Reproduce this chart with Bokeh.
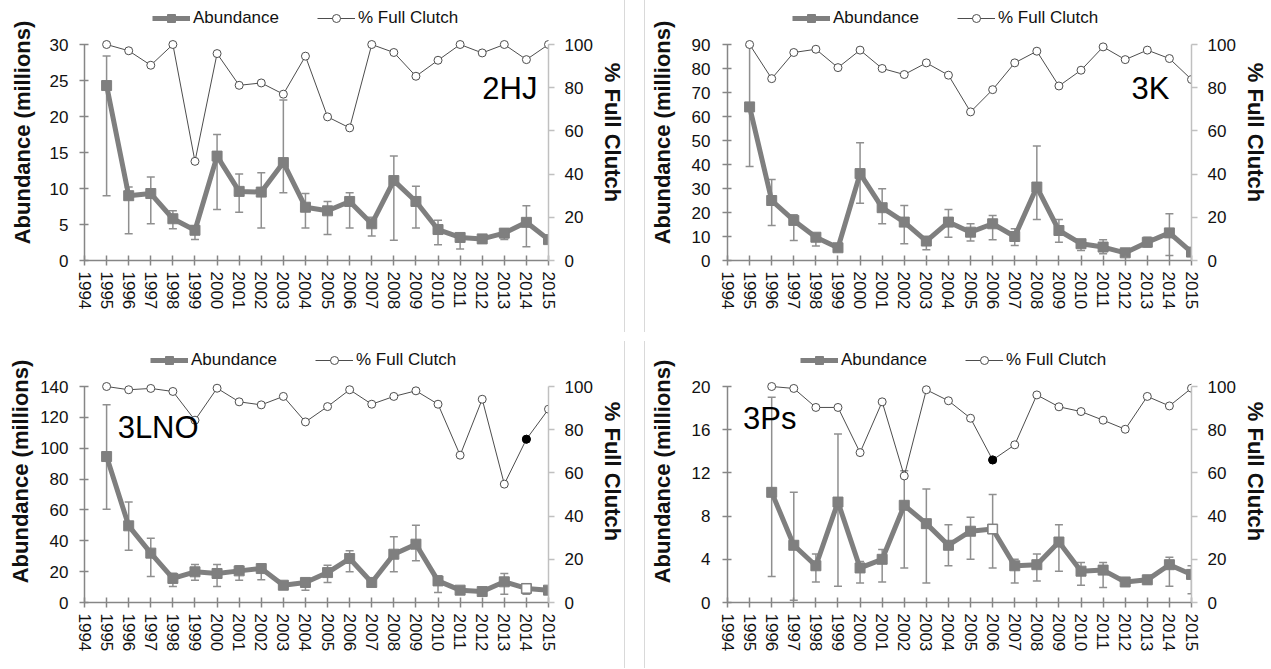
from bokeh.plotting import figure
from bokeh.models import (Range1d, LinearAxis, FixedTicker, Legend, LegendItem,
                          Whisker, TeeHead, ColumnDataSource, Label)
from bokeh.layouts import gridplot
from bokeh.embed import file_html
from bokeh.resources import INLINE

tick_years = list(range(1994, 2016))
years = list(range(1995, 2016))
ps_years = list(range(1996, 2016))

# 2HJ
hj_abund = [24.3, 9.0, 9.3, 5.8, 4.2, 14.5, 9.6, 9.5, 13.6, 7.4, 6.9, 8.2, 5.1, 11.1, 8.2, 4.3, 3.2, 3.0, 3.8, 5.3, 2.9]
hj_lo = [9.0, 3.7, 5.1, 4.4, 2.9, 7.1, 6.7, 4.5, 9.4, 4.5, 3.6, 4.5, 3.4, 2.8, 4.5, 2.2, 1.6, 2.7, 2.9, 1.9, 2.6]
hj_hi = [28.4, 10.2, 11.6, 6.9, 4.8, 17.5, 12.0, 12.2, 22.3, 9.3, 8.2, 9.4, 6.0, 14.5, 10.3, 5.6, 3.7, 3.3, 4.4, 7.6, 3.2]
hj_pct = [100, 97.1, 90.4, 100, 45.9, 95.8, 81.1, 82.2, 77.0, 94.6, 66.5, 61.4, 100, 96.3, 85.3, 92.7, 100, 96.1, 100, 93.0, 100]

# 3K
k_abund = [64.0, 25.0, 16.7, 9.7, 5.3, 36.2, 22.0, 16.0, 8.1, 16.0, 11.8, 15.3, 10.0, 30.6, 12.5, 7.0, 5.6, 3.2, 7.6, 11.5, 3.5]
k_lo = [39.2, 14.6, 8.3, 6.0, 4.5, 23.9, 15.3, 7.0, 4.5, 9.7, 8.1, 8.6, 6.3, 17.1, 7.6, 4.2, 2.8, 2.5, 5.6, 2.1, 2.8]
k_hi = [89.5, 33.7, 19.1, 11.1, 6.5, 49.1, 29.9, 22.9, 9.7, 21.3, 15.3, 18.8, 13.2, 47.7, 17.1, 8.1, 8.6, 4.0, 9.7, 19.5, 4.2]
k_pct = [100, 84.2, 96.3, 97.8, 89.3, 97.4, 88.9, 86.1, 91.5, 85.8, 68.8, 79.1, 91.5, 96.9, 80.8, 88.1, 98.9, 93.0, 97.4, 93.5, 83.8]

# 3LNO
lno_abund = [94.6, 49.7, 32.0, 15.6, 19.9, 18.8, 20.5, 22.0, 11.2, 13.0, 19.4, 28.5, 13.0, 31.3, 37.8, 14.0, 8.0, 7.1, 13.4, 9.1, 8.0]
lno_lo = [60.5, 33.9, 16.8, 10.4, 14.5, 10.4, 14.5, 14.7, 9.5, 8.0, 13.0, 19.9, 11.0, 19.9, 27.0, 6.5, 6.5, 6.0, 5.4, 5.4, 7.0]
lno_hi = [128.1, 65.2, 41.7, 19.0, 24.6, 24.6, 23.8, 24.6, 13.0, 15.5, 24.2, 33.5, 15.0, 42.6, 50.1, 17.3, 9.5, 8.5, 18.8, 11.0, 9.0]
lno_pct = [100, 98.5, 99.1, 97.7, 84.4, 99.2, 92.9, 91.5, 95.4, 83.6, 90.7, 98.5, 91.8, 95.4, 98.0, 91.8, 68.2, 94.1, 54.8, 75.6, 89.5]

# 3Ps
ps_abund = [10.2, 5.3, 3.4, 9.3, 3.2, 4.0, 9.0, 7.3, 5.3, 6.6, 6.8, 3.4, 3.5, 5.6, 2.9, 3.0, 1.9, 2.1, 3.5, 2.6]
ps_lo = [2.4, 0.2, 1.9, 1.5, 1.8, 1.9, 3.2, 1.8, 3.4, 4.0, 3.2, 1.8, 2.0, 2.9, 1.6, 1.4, 1.6, 1.7, 1.5, 0.8]
ps_hi = [19.0, 10.2, 4.5, 15.6, 3.8, 4.9, 12.2, 10.5, 7.2, 7.9, 10.0, 4.0, 4.5, 7.2, 3.7, 3.7, 2.2, 2.5, 4.2, 3.4]
ps_pct = [100, 99.1, 90.3, 90.3, 69.4, 92.9, 58.6, 98.5, 93.4, 85.3, 66.0, 73.0, 96.1, 90.6, 88.4, 84.4, 80.2, 95.4, 91.0, 99.2]

pct_ticks = [0, 20, 40, 60, 80, 100]

FONT = "Liberation Sans"
ABC = "#7f7f7f"
ERRC = "#8f8f8f"
PCTC = "#4d4d4d"
AXC = "#868686"
SEPC = "#d9d9d9"
AXIS_PX = 216  # pixel height of the data part of each axis


def make_panel(yrs, abund, lo, hi, pct, ymax, ystep, name, lab_x, lab_y, lab_align,
               special, width, height, bl, br, bt, bb, leg_x, tick_sd, title_sd,
               sep_x, sep_y, sep_h):
    frame_h = height - bt - bb
    ext = frame_h / AXIS_PX
    p = figure(width=width, height=height, output_backend="svg", toolbar_location=None,
               x_range=Range1d(1994, 2015), y_range=Range1d(0, ymax * ext),
               min_border_left=bl, min_border_right=br, min_border_top=bt, min_border_bottom=bb)
    p.extra_y_ranges = {"pct": Range1d(0, 100 * ext)}
    p.xgrid.visible = False
    p.ygrid.visible = False
    p.outline_line_color = None
    p.background_fill_color = "white"
    p.border_fill_color = None
    # faint panel separator drawn as a page background line
    p.styles = {
        "background-image": f"linear-gradient({SEPC}, {SEPC})",
        "background-repeat": "no-repeat",
        "background-size": f"1px {sep_h}px",
        "background-position": f"{sep_x}px {sep_y}px",
    }

    src = ColumnDataSource(dict(x=yrs, y=abund, lo=lo, hi=hi, pct=pct))

    w = Whisker(base="x", lower="lo", upper="hi", source=src, level="underlay",
                line_color=ERRC, line_width=1.5,
                upper_head=TeeHead(size=8, line_color=ERRC, line_width=1.5),
                lower_head=TeeHead(size=8, line_color=ERRC, line_width=1.5))
    p.add_layout(w)

    al = p.line("x", "y", source=src, line_color=ABC, line_width=5)
    asq = p.scatter("x", "y", source=src, marker="square", size=10,
                    fill_color=ABC, line_color=ABC)
    pl = p.line("x", "pct", source=src, y_range_name="pct", line_color=PCTC, line_width=1)
    pc = p.scatter("x", "pct", source=src, y_range_name="pct", marker="circle", size=8,
                   fill_color="white", line_color=PCTC, line_width=1)

    if special is not None:
        i = yrs.index(special)
        p.scatter([special], [abund[i]], marker="square", size=9,
                  fill_color="white", line_color=ABC, line_width=1)
        p.scatter([special], [pct[i]], y_range_name="pct", marker="circle", size=8,
                  fill_color="black", line_color="black")

    # bottom axis
    for xa in p.xaxis:
        xa.ticker = FixedTicker(ticks=tick_years)
        xa.major_label_orientation = "vertical"
        xa.major_label_text_font = FONT
        xa.major_label_text_font_size = "17px"
        xa.major_label_text_color = "#111111"
        xa.axis_line_color = AXC
        xa.axis_line_width = 1.5
        xa.major_tick_line_color = AXC
        xa.major_tick_line_width = 1.5
        xa.major_tick_in = 5
        xa.major_tick_out = 5
        xa.minor_tick_line_color = None
        xa.major_label_standoff = 6

    # left axis
    ya = p.yaxis[0]
    ya.bounds = (0, ymax)
    ya.ticker = FixedTicker(ticks=list(range(0, ymax + 1, ystep)))
    ya.axis_label = "Abundance (millions)"
    ya.axis_label_text_font = FONT
    ya.axis_label_text_font_style = "bold"
    ya.axis_label_text_font_size = "22px"
    ya.axis_label_text_color = "#111111"
    ya.axis_label_standoff = title_sd
    ya.major_label_text_font = FONT
    ya.major_label_text_font_size = "17px"
    ya.major_label_text_color = "#111111"
    ya.axis_line_color = AXC
    ya.axis_line_width = 1.5
    ya.major_tick_line_color = AXC
    ya.major_tick_line_width = 1.5
    ya.major_tick_in = 4
    ya.major_tick_out = 5
    ya.minor_tick_line_color = None
    ya.major_label_standoff = tick_sd

    ra = LinearAxis(y_range_name="pct", ticker=FixedTicker(ticks=pct_ticks),
                    axis_label="% Full Clutch", bounds=(0, 100))
    ra.axis_label_text_font = FONT
    ra.axis_label_text_font_style = "bold"
    ra.axis_label_text_font_size = "22px"
    ra.axis_label_text_color = "#111111"
    ra.axis_label_standoff = 4
    ra.major_label_text_font = FONT
    ra.major_label_text_font_size = "17px"
    ra.major_label_text_color = "#111111"
    ra.axis_line_color = "#c0c0c0"
    ra.axis_line_width = 1.5
    ra.major_tick_line_color = "#c0c0c0"
    ra.major_tick_line_width = 1.5
    ra.major_tick_in = 0
    ra.major_tick_out = 6
    ra.minor_tick_line_color = None
    ra.major_label_standoff = 10
    p.add_layout(ra, "right")

    leg = Legend(items=[LegendItem(label="Abundance", renderers=[al, asq]),
                        LegendItem(label="% Full Clutch", renderers=[pl, pc])],
                 location=(leg_x, AXIS_PX + 16), orientation="horizontal",
                 glyph_width=38, glyph_height=20, label_standoff=3, spacing=38,
                 padding=0, margin=0, border_line_color=None,
                 background_fill_alpha=0,
                 label_text_font=FONT, label_text_font_size="17px",
                 label_text_color="#111111")
    p.add_layout(leg, "center")

    lab = Label(x=lab_x, y=lab_y, text=name, text_font=FONT, text_font_size="31px",
                text_align=lab_align, text_baseline="middle", text_color="black")
    p.add_layout(lab)
    return p


p1 = make_panel(years, hj_abund, hj_lo, hj_hi, hj_pct, 30, 5, "2HJ", 2014.5, 23.9, "right",
                None, 627, 336, 84, 77, 4, 76, 68, 11, 12, 624, 0, 332)
p2 = make_panel(years, k_abund, k_lo, k_hi, k_pct, 90, 10, "3K", 2014.0, 71.7, "right",
                None, 643, 336, 100, 78, 4, 76, 65, 12, 14, 17, 0, 332)
p3 = make_panel(years, lno_abund, lno_lo, lno_hi, lno_pct, 140, 20, "3LNO", 1995.5, 113.4, "left",
                2014, 627, 332, 84, 77, 4, 66, 66, 11, 4, 624, 5, 327)
p4 = make_panel(ps_years, ps_abund, ps_lo, ps_hi, ps_pct, 20, 4, "3Ps", 1994.7, 17.0, "left",
                2006, 643, 332, 100, 78, 4, 66, 73, 12, 14, 17, 5, 327)

grid = gridplot([[p1, p2], [p3, p4]], toolbar_location=None)

open("out.html", "w").write(file_html(grid, INLINE))
